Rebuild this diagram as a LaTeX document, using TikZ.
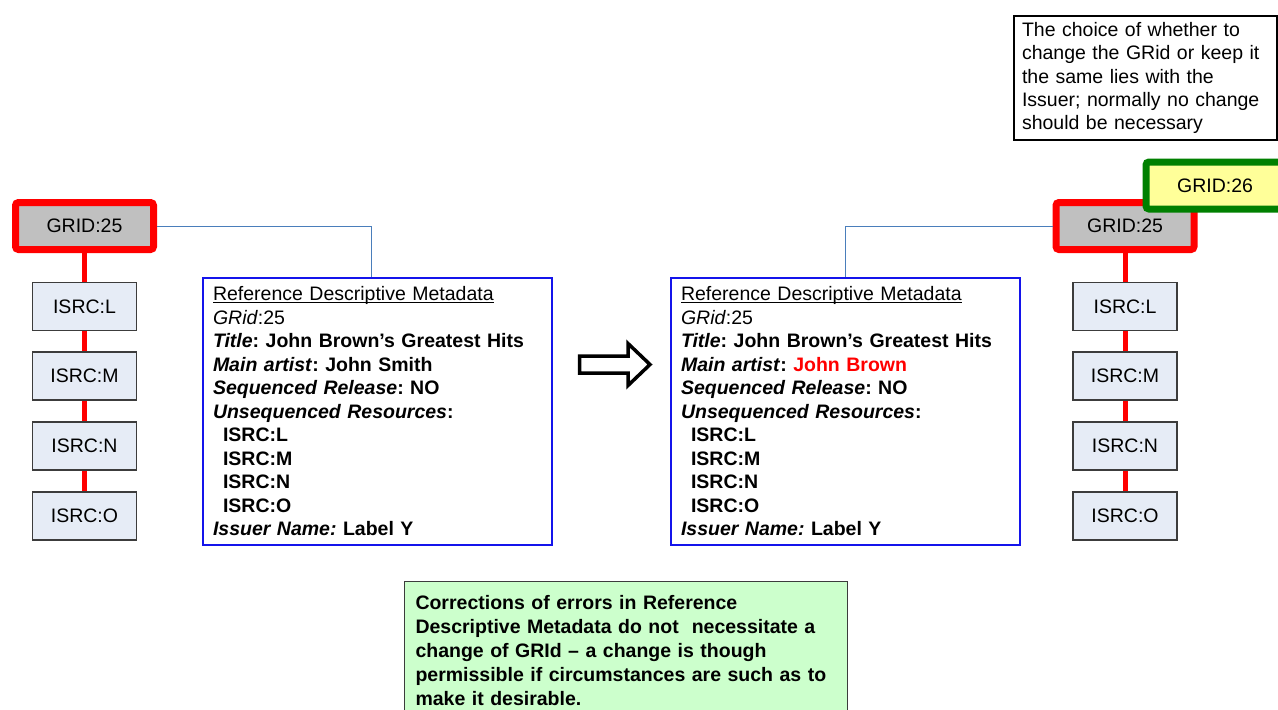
\documentclass[tikz,border=0pt]{standalone}
\usepackage{fontspec}
\setmainfont{Liberation Sans}
\frenchspacing
\definecolor{gridred}{RGB}{255, 0, 0}
\definecolor{gridgray}{RGB}{192, 192, 192}
\definecolor{isrcfill}{RGB}{230, 236, 246}
\definecolor{isrcline}{RGB}{60, 60, 60}
\definecolor{metablue}{RGB}{20, 20, 235}
\definecolor{linkblue}{RGB}{74, 126, 187}
\definecolor{newgreen}{RGB}{0, 128, 0}
\definecolor{newyellow}{RGB}{255, 255, 153}
\definecolor{notegreen}{RGB}{204, 255, 204}
\usetikzlibrary{positioning}

\tikzset{
  gridbox/.style={draw=gridred, fill=gridgray, line width=7pt, rounded corners=3pt, minimum width=138pt, minimum height=47pt, inner sep=0pt},
  newgrid/.style={gridbox, draw=newgreen, fill=newyellow},
  isrc/.style={draw=isrcline, fill=isrcfill, line width=1.2pt, minimum width=104pt, minimum height=48pt, inner sep=0pt},
  isrclink/.style={gridred, line width=5pt},
  meta/.style={draw=metablue, line width=2pt, minimum width=349pt, minimum height=267pt, text width=329pt, align=left, inner xsep=10pt},
  metalink/.style={linkblue, line width=1pt},
}

\newcommand{\metalines}[1]{%
  \underline{\raisebox{0pt}[\height][0pt]{Reference Descriptive Metadata}}\\
  \textit{GRid}:25\\
  \textbf{\textit{Title}: John Brown’s Greatest Hits}\\
  \textbf{\textit{Main artist}: #1}\\
  \textbf{\textit{Sequenced Release}: NO}\\
  \textbf{\textit{Unsequenced Resources}:}\\
  \hspace*{10pt}\textbf{ISRC:L}\\
  \hspace*{10pt}\textbf{ISRC:M}\\
  \hspace*{10pt}\textbf{ISRC:N}\\
  \hspace*{10pt}\textbf{ISRC:O}\\
  \textbf{\textit{Issuer Name:} Label Y}}

\begin{document}
\begin{tikzpicture}[x=1pt, y=-1pt, font=\fontsize{19.5}{23.5}\selectfont]
  \useasboundingbox (0, 0) rectangle (1278, 710);

  % Release before the correction
  \node[gridbox] (gridA) at (84.5, 226) {GRID:25};
  \foreach \s/\y in {L/306.5, M/376, N/446, O/516}
    \node[isrc] (isrcA\s) at (84.5, \y) {ISRC:\s};
  \foreach \a/\b in {gridA/isrcAL, isrcAL/isrcAM, isrcAM/isrcAN, isrcAN/isrcAO}
    \draw[isrclink] (\a) -- (\b);

  \node[meta] (metaA) at (377.5, 411.5) {\metalines{John Smith}};
  \draw[metalink] (gridA.east) -| ([xshift=-6.5pt]metaA.north);

  % Correction arrow
  \draw[line width=3.5pt, fill=white, line join=miter]
    (579.5, 356) -- (628, 356) -- (628, 343.5) -- (650, 364.5) -- (628, 385.5) -- (628, 373) -- (579.5, 373) -- cycle;

  % Release after the correction
  \node[meta] (metaB) at (845.5, 411.5) {\metalines{\textcolor{gridred}{John Brown}}};

  \node[gridbox] (gridB) at (1125, 226) {GRID:25};
  \foreach \s/\y in {L/306.5, M/376, N/446, O/516}
    \node[isrc] (isrcB\s) at (1125, \y) {ISRC:\s};
  \foreach \a/\b in {gridB/isrcBL, isrcBL/isrcBM, isrcBM/isrcBN, isrcBN/isrcBO}
    \draw[isrclink] (\a) -- (\b);
  \draw[metalink] (gridB.west) -| (metaB.north);

  \node[newgrid] (gridC) at (1215, 185.5) {GRID:26};

  % Comments
  \node[draw, line width=2pt, minimum width=263pt, minimum height=124pt, text width=247pt, inner xsep=8pt, align=left, font=\fontsize{19.5}{23.3}\selectfont] (choice) at (1145.5, 78) {
    The choice of whether to\\change the GRid or keep it\\the same lies with the\\Issuer; normally no change\\should be necessary
  };

  \node[draw=isrcline, fill=notegreen, line width=1pt, anchor=north west, text width=420pt, inner xsep=11.5pt, inner ysep=14pt, align=left, font=\fontsize{19.5}{24}\selectfont\bfseries] (note) at (403.5, 580.5) {
    Corrections of errors in Reference\\Descriptive Metadata do not~ necessitate a\\change of GRId – a change is though\\permissible if circumstances are such as to\\make it desirable.
  };
\end{tikzpicture}
\end{document}
